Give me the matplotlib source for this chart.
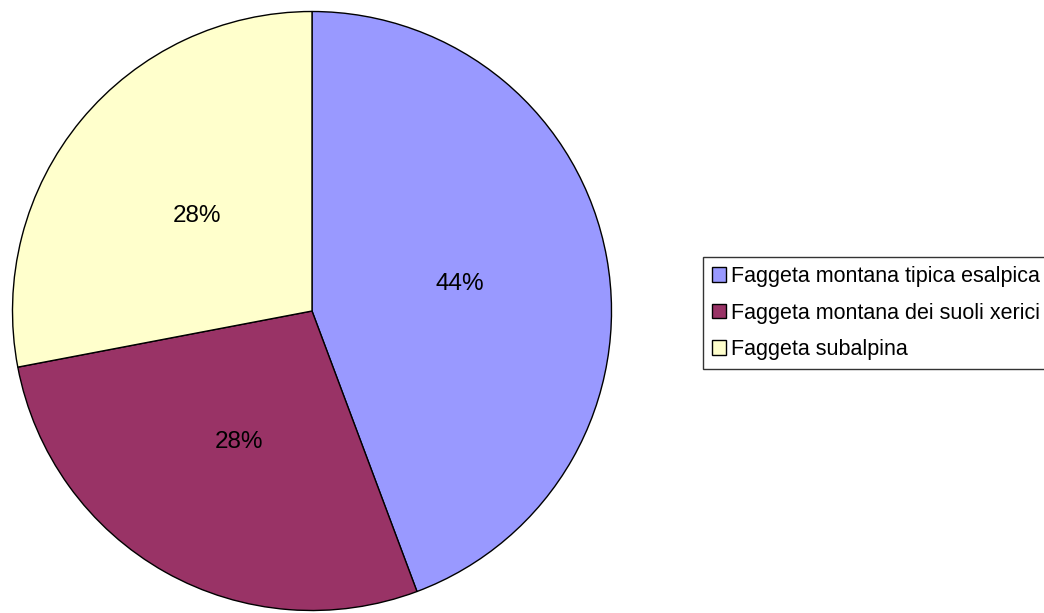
import matplotlib.pyplot as plt

# dati
categorie = ['Faggeta montana tipica esalpica',
             'Faggeta montana dei suoli xerici',
             'Faggeta subalpina']
valori = [44.3, 27.7, 28.0]
colori = ['#9999FF', '#993366', '#FFFFCC']

plt.rcParams['font.family'] = ['Liberation Sans', 'DejaVu Sans']

fig = plt.figure(figsize=(10.44, 6.13), dpi=100)
W, H = 1044, 613
cx, cy, r = 312, 311, 301
ax = fig.add_axes([(cx - r) / W, (H - cy - r) / H, 2 * r / W, 2 * r / H])

wedges, testi, autotesti = ax.pie(
    valori,
    colors=colori,
    startangle=90,
    counterclock=False,
    autopct='%1.0f%%',
    pctdistance=0.5,
    wedgeprops=dict(edgecolor='black', linewidth=1),
    textprops=dict(fontsize=17.5, color='black'),
)
ax.set_xlim(-1.005, 1.005)
ax.set_ylim(-1.005, 1.005)

leg = fig.legend(wedges, categorie,
                 loc='upper left',
                 bbox_to_anchor=(703 / W, 1 - 257 / H),
                 fontsize=15.5,
                 frameon=True,
                 fancybox=False,
                 handlelength=0.65,
                 handleheight=0.65,
                 handletextpad=0.25,
                 labelspacing=0.72,
                 borderpad=0.42,
                 borderaxespad=0)
leg.get_frame().set_edgecolor('black')
leg.get_frame().set_linewidth(1)
for h in leg.legend_handles:
    h.set_linewidth(1)

fig.savefig('out.png', dpi=100)
